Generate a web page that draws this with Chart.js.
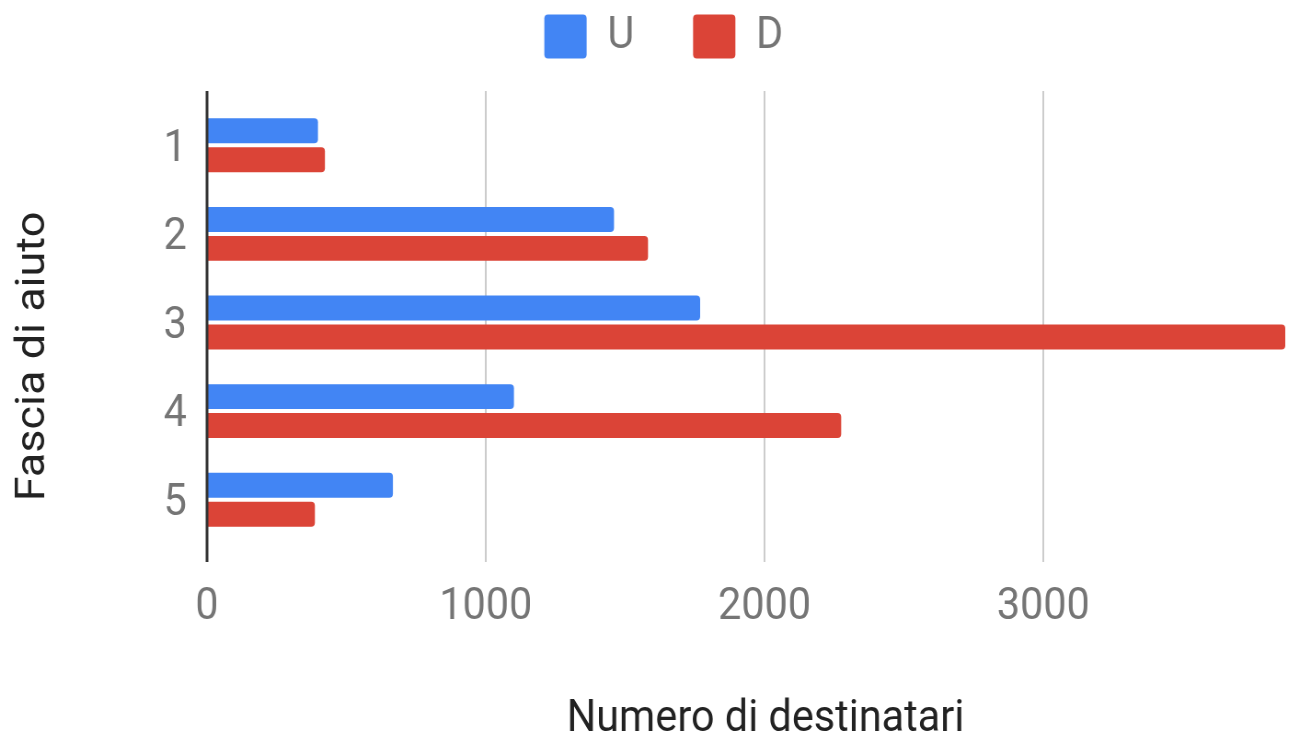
<!DOCTYPE html>
<html>
<head>
<meta charset="utf-8">
<script src="https://cdn.jsdelivr.net/npm/chart.js@4.4.1/dist/chart.umd.min.js"></script>
<style>
  html, body { margin: 0; padding: 0; background: #ffffff; overflow: hidden; }
  #stage { width: 1315px; height: 734px; overflow: hidden; position: relative; }
  #wrap { width: 1429px; height: 734px; transform: scaleX(0.92); transform-origin: 0 0; position: absolute; left: 0; top: 0; }
</style>
</head>
<body>
<div id="stage"><div id="wrap"><canvas id="c" width="1429" height="734"></canvas></div></div>
<script>
// ---- data ----
const categories = ['1', '2', '3', '4', '5'];
const seriesNames = ['U', 'D'];
const seriesU = [398, 1460, 1769, 1101, 667];
const seriesD = [423, 1582, 3868, 2275, 387];
const xTickValues = [0, 1000, 2000, 3000];
const xTitle = 'Numero di destinatari';
const yTitle = 'Fascia di aiuto';

const BLUE = '#4285F4';
const RED = '#DB4437';
const TICK_GRAY = '#757575';
const TITLE_DARK = '#222222';

Chart.defaults.font.family = 'Roboto, "Noto Sans", Arial, sans-serif';

const xMax = Math.max(...seriesU, ...seriesD);

function shiftTitle(scale, dx, dy) {
  if (!scale || scale._titleShifted) return;
  const orig = scale.drawTitle.bind(scale);
  scale.drawTitle = function (chartArea) {
    const ctx = this.ctx;
    ctx.save();
    ctx.translate(dx, dy);
    orig(chartArea);
    ctx.restore();
  };
  scale._titleShifted = true;
}

const axisLines = {
  id: 'axisLines',
  afterLayout(chart) {
    if (chart.legend) {
      chart.legend.left += 23;
      chart.legend.right += 23;
    }
    shiftTitle(chart.scales.x, 21, 0);
    shiftTitle(chart.scales.y, 2, 34);
  },
  beforeDatasetsDraw(chart) {
    const { ctx, chartArea, scales } = chart;
    const x = scales.x;
    const top = chartArea.top - 10, bottom = chartArea.bottom + 18;
    ctx.save();
    ctx.strokeStyle = '#cccccc';
    ctx.lineWidth = 2;
    xTickValues.forEach(v => {
      if (v === 0) return;
      const px = Math.round(x.getPixelForValue(v));
      ctx.beginPath();
      ctx.moveTo(px, top);
      ctx.lineTo(px, bottom);
      ctx.stroke();
    });
    ctx.restore();
  },
  afterDatasetsDraw(chart) {
    const { ctx, chartArea, scales } = chart;
    const x = scales.x;
    const top = chartArea.top - 10, bottom = chartArea.bottom + 18;
    const px = x.getPixelForValue(0);
    ctx.save();
    ctx.strokeStyle = '#333333';
    ctx.lineWidth = 3;
    ctx.beginPath();
    ctx.moveTo(px, top);
    ctx.lineTo(px, bottom);
    ctx.stroke();
    ctx.restore();
  }
};

new Chart(document.getElementById('c'), {
  type: 'bar',
  data: {
    labels: categories,
    datasets: [
      { label: seriesNames[0], data: seriesU, backgroundColor: BLUE, borderWidth: 0, borderRadius: 4, borderSkipped: 'start', xAxisID: 'x' },
      { label: seriesNames[1], data: seriesD, backgroundColor: RED, borderWidth: 0, borderRadius: 4, borderSkipped: 'start', xAxisID: 'x' }
    ]
  },
  options: {
    indexAxis: 'y',
    responsive: false,
    animation: false,
    devicePixelRatio: 1,
    datasets: { bar: { categoryPercentage: 0.653, barPercentage: 0.862 } },
    layout: { padding: { top: -50, right: 32, bottom: 0, left: 0 } },
    plugins: {
      tooltip: { enabled: false },
      legend: {
        position: 'top',
        align: 'center',
        labels: {
          boxWidth: 46,
          boxHeight: 44,
          padding: 64,
          useBorderRadius: true,
          borderRadius: 4,
          color: TICK_GRAY,
          font: { size: 45 }
        }
      }
    },
    scales: {
      xTop: {
        type: 'linear',
        position: 'top',
        display: true,
        grid: { display: false, drawTicks: false },
        border: { display: false },
        ticks: { display: false },
        afterFit(s) { s.height = 32; }
      },
      x: {
        type: 'linear',
        position: 'bottom',
        min: 0,
        max: xMax,
        grid: { display: false, drawTicks: false },
        border: { display: false },
        afterBuildTicks(s) { s.ticks = xTickValues.map(v => ({ value: v })); },
        ticks: {
          color: TICK_GRAY,
          font: { size: 45 },
          padding: 37,
          maxRotation: 0,
          autoSkip: false,
          callback: v => String(v)
        },
        title: {
          display: true,
          text: xTitle,
          color: TITLE_DARK,
          font: { size: 45 },
          padding: { top: 0, bottom: -13 }
        },
        afterFit(s) { s.height = 190; }
      },
      y: {
        type: 'category',
        grid: { display: false, drawTicks: false },
        border: { display: false },
        ticks: {
          color: TICK_GRAY,
          font: { size: 45 },
          padding: 22,
          labelOffset: 4
        },
        title: {
          display: true,
          text: yTitle,
          color: TITLE_DARK,
          font: { size: 45 },
          padding: { top: 8, bottom: 0 }
        },
        afterFit(s) { s.width = 225; }
      }
    }
  },
  plugins: [axisLines]
});
</script>
</body>
</html>
